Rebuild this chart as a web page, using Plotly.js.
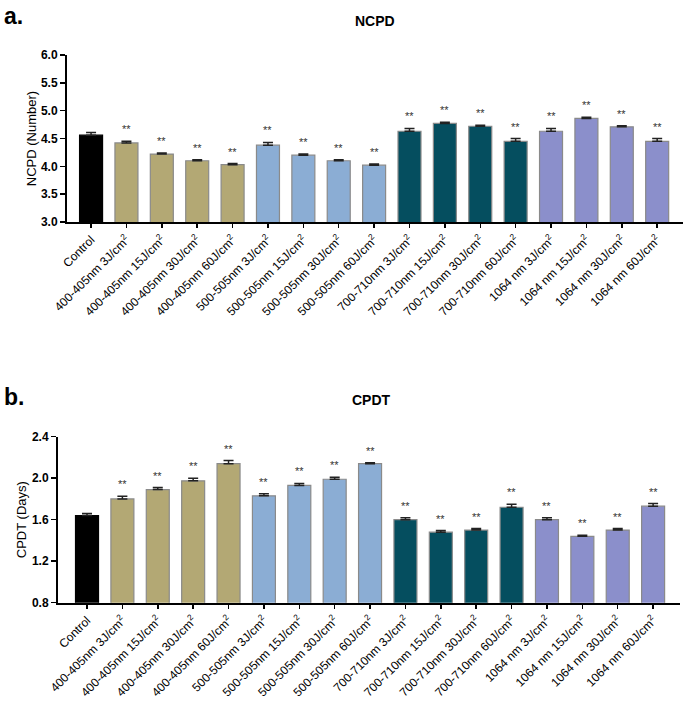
<!DOCTYPE html>
<html>
<head>
<meta charset="utf-8">
<script src="https://cdn.plot.ly/plotly-3.0.1.min.js"></script>
<style>html,body{margin:0;padding:0;background:#fff;}#chart{width:685px;height:702px;}</style>
</head>
<body>
<div id="chart"></div>
<script>
const categories = [
  "Control",
  "400-405nm 3J/cm<sup>2</sup>", "400-405nm 15J/cm<sup>2</sup>", "400-405nm 30J/cm<sup>2</sup>", "400-405nm 60J/cm<sup>2</sup>",
  "500-505nm 3J/cm<sup>2</sup>", "500-505nm 15J/cm<sup>2</sup>", "500-505nm 30J/cm<sup>2</sup>", "500-505nm 60J/cm<sup>2</sup>",
  "700-710nm 3J/cm<sup>2</sup>", "700-710nm 15J/cm<sup>2</sup>", "700-710nm 30J/cm<sup>2</sup>", "700-710nm 60J/cm<sup>2</sup>",
  "1064 nm 3J/cm<sup>2</sup>", "1064 nm 15J/cm<sup>2</sup>", "1064 nm 30J/cm<sup>2</sup>", "1064 nm 60J/cm<sup>2</sup>"
];
const groups = ["control","405","405","405","405","505","505","505","505","710","710","710","710","1064","1064","1064","1064"];
const groupColors = {control:"#000000","405":"#b3a874","505":"#8badd4","710":"#054e5f","1064":"#8b8fcb"};
const significance = ["","**","**","**","**","**","**","**","**","**","**","**","**","**","**","**","**"];

const ncpdMean = [4.56, 4.42, 4.22, 4.10, 4.03, 4.38, 4.20, 4.10, 4.02, 4.63, 4.77, 4.72, 4.45, 4.63, 4.86, 4.71, 4.45];
const ncpdErr  = [0.05, 0.03, 0.02, 0.02, 0.02, 0.05, 0.02, 0.02, 0.02, 0.05, 0.02, 0.02, 0.05, 0.05, 0.02, 0.02, 0.05];
const cpdtMean = [1.64, 1.80, 1.89, 1.975, 2.14, 1.83, 1.93, 1.99, 2.14, 1.60, 1.48, 1.50, 1.72, 1.60, 1.44, 1.50, 1.73];
const cpdtErr  = [0.02, 0.025, 0.02, 0.025, 0.03, 0.02, 0.02, 0.02, 0.01, 0.02, 0.015, 0.015, 0.03, 0.02, 0.01, 0.015, 0.025];

const barColors = groups.map(g => groupColors[g]);
const lineColors = groups.map(g => g === "control" ? "#000000" : "#8a8a8a");

function barTrace(y, err, xa, ya) {
  return {
    type: "bar", x: categories, y: y, xaxis: xa, yaxis: ya,
    marker: {color: barColors, line: {color: lineColors, width: 1.2}},
    error_y: {type: "data", symmetric: false, array: err, arrayminus: err.map(() => 0),
              color: "#222", thickness: 1.5, width: 5},
    hoverinfo: "skip", showlegend: false
  };
}

const annotations = [];
function addStars(mean, err, xa, ya) {
  categories.forEach((c, i) => {
    if (!significance[i]) return;
    annotations.push({x: c, y: mean[i] + err[i], xref: xa, yref: ya, text: significance[i],
      showarrow: false, yanchor: "bottom", yshift: 4, font: {family: "Liberation Sans, Arial", size: 11, color: "#333"}});
  });
}
addStars(ncpdMean, ncpdErr, "x", "y");
addStars(cpdtMean, cpdtErr, "x2", "y2");

const font = {family: "Liberation Sans, Arial, sans-serif", color: "#000"};
annotations.push(
  {text: "<b>a.</b>", xref: "paper", yref: "paper", x: 0.003, y: 0.999, xanchor: "left", yanchor: "top", showarrow: false, font: {family: font.family, size: 23, color: "#000"}},
  {text: "<b>b.</b>", xref: "paper", yref: "paper", x: 0.003, y: 0.456, xanchor: "left", yanchor: "top", showarrow: false, font: {family: font.family, size: 23, color: "#000"}},
  {text: "<b>NCPD</b>", xref: "paper", yref: "paper", x: 0.548, y: 0.985, xanchor: "center", yanchor: "top", showarrow: false, font: {family: font.family, size: 14, color: "#000"}},
  {text: "<b>CPDT</b>", xref: "paper", yref: "paper", x: 0.543, y: 0.444, xanchor: "center", yanchor: "top", showarrow: false, font: {family: font.family, size: 14, color: "#000"}}
);

const xCommon = {
  type: "category", showgrid: false, zeroline: false, showline: true, linecolor: "#000", linewidth: 2,
  ticks: "outside", ticklen: 4, tickwidth: 1.5, tickcolor: "#000", tickangle: -45,
  tickfont: {family: font.family, size: 12, color: "#000"}, automargin: false
};
const yCommon = {
  showgrid: false, zeroline: false, showline: true, linecolor: "#000", linewidth: 2,
  ticks: "outside", ticklen: 5, tickwidth: 1.5, tickcolor: "#000",
  tickfont: {family: font.family, size: 12, color: "#000", weight: "bold"}, automargin: false
};

const layout = {
  width: 685, height: 702,
  margin: {l: 0, r: 0, t: 0, b: 0},
  paper_bgcolor: "#fff", plot_bgcolor: "#fff",
  bargap: 0.35,
  font: font,
  xaxis: Object.assign({}, xCommon, {domain: [67/685, 683/685], anchor: "y", range: [-0.68, 16.73]}),
  yaxis: Object.assign({}, yCommon, {domain: [1 - 222/702, 1 - 55/702], anchor: "x", range: [3, 6], tickvals: [3,3.5,4,4.5,5,5.5,6], ticktext: ["3.0","3.5","4.0","4.5","5.0","5.5","6.0"],
    title: {text: "NCPD (Number)", font: {family: font.family, size: 13, color: "#000"}, standoff: 1}}),
  xaxis2: Object.assign({}, xCommon, {domain: [58/685, 680/685], anchor: "y2", range: [-0.82, 16.76]}),
  yaxis2: Object.assign({}, yCommon, {domain: [1 - 602.7/702, 1 - 436.7/702], anchor: "x2", range: [0.8, 2.4], tickvals: [0.8,1.2,1.6,2.0,2.4], ticktext: ["0.8","1.2","1.6","2.0","2.4"],
    title: {text: "CPDT (Days)", font: {family: font.family, size: 13, color: "#000"}, standoff: 2}}),
  annotations: annotations
};

Plotly.newPlot("chart", [barTrace(ncpdMean, ncpdErr, "x", "y"), barTrace(cpdtMean, cpdtErr, "x2", "y2")], layout, {displayModeBar: false, staticPlot: true});
</script>
</body>
</html>
